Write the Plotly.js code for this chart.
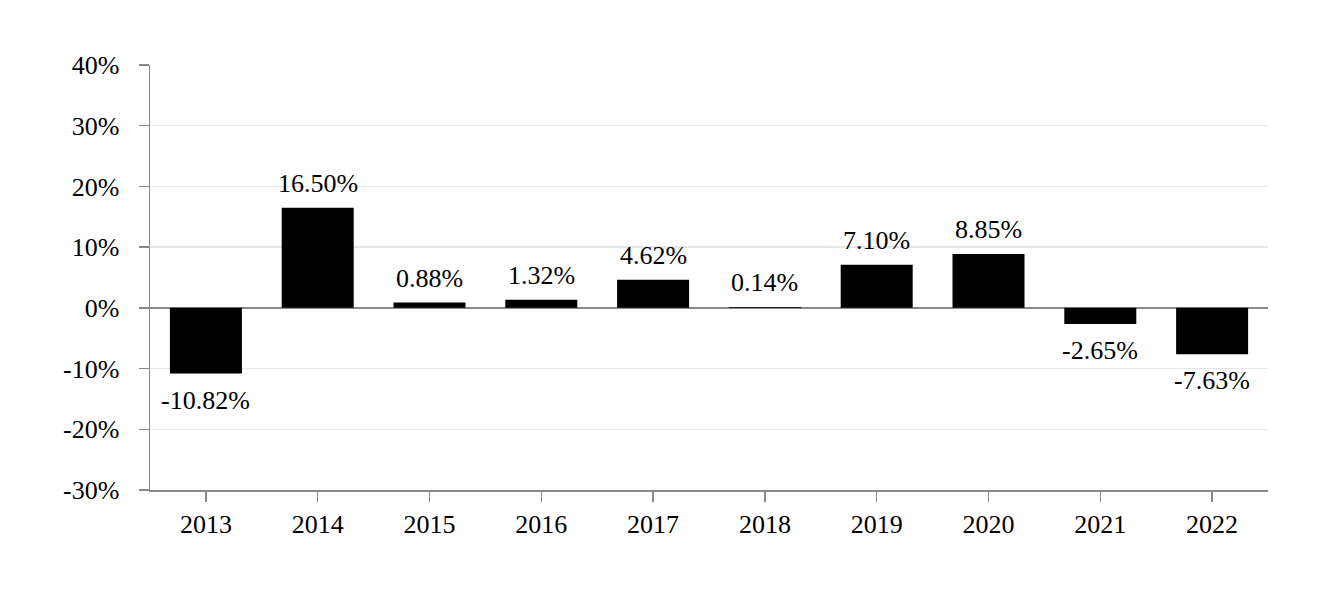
<!DOCTYPE html>
<html><head><meta charset="utf-8">
<script src="https://cdn.plot.ly/plotly-3.0.1.min.js"></script>
<style>html,body{margin:0;padding:0;background:#fff}#c{width:1332px;height:600px}</style>
</head><body><div id="c"></div>
<script>
const years = ['2013','2014','2015','2016','2017','2018','2019','2020','2021','2022'];
const returns = [-10.82, 16.50, 0.88, 1.32, 4.62, 0.14, 7.10, 8.85, -2.65, -7.63];
const labels = returns.map(v => v.toFixed(2) + '%');
const yTickVals = [-30,-20,-10,0,10,20,30,40];
const yTickText = yTickVals.map(v => v + '%');

const font = {family: 'Liberation Serif, Times New Roman, serif', size: 26, color: '#000'};
const annotations = years.map((yr, i) => ({
  x: i, y: returns[i], xref: 'x', yref: 'y', text: labels[i], showarrow: false,
  yanchor: returns[i] >= 0 ? 'bottom' : 'top', yshift: returns[i] >= 0 ? 8 : -10,
  font: font
}));
Plotly.newPlot('c', [{
  type: 'bar', x: years, y: returns,
  marker: {color: '#000'}, hoverinfo: 'none'
}], {
  width: 1332, height: 600,
  margin: {l: 150, r: 64, t: 65, b: 110},
  paper_bgcolor: '#fff', plot_bgcolor: '#fff',
  bargap: 0.356, showlegend: false, font: font, annotations: annotations,
  xaxis: {type: 'category', range: [-0.5, years.length - 0.5], showline: true, linecolor: '#888', linewidth: 1.5,
    ticks: 'outside', ticklen: 10, tickcolor: '#888', tickwidth: 1.5, tickfont: font,
    showgrid: false, zeroline: false},
  yaxis: {range: [-30, 40], tickvals: yTickVals, ticktext: yTickText, showline: true, linecolor: '#888', linewidth: 1.5,
    ticks: 'outside', ticklen: 10, tickcolor: '#888', tickwidth: 1.5, tickfont: font, ticklabelstandoff: 14,
    gridcolor: '#e6e6e6', gridwidth: 1.5, zeroline: true, zerolinecolor: '#888', zerolinewidth: 1.5}
}, {staticPlot: true});
</script></body></html>
